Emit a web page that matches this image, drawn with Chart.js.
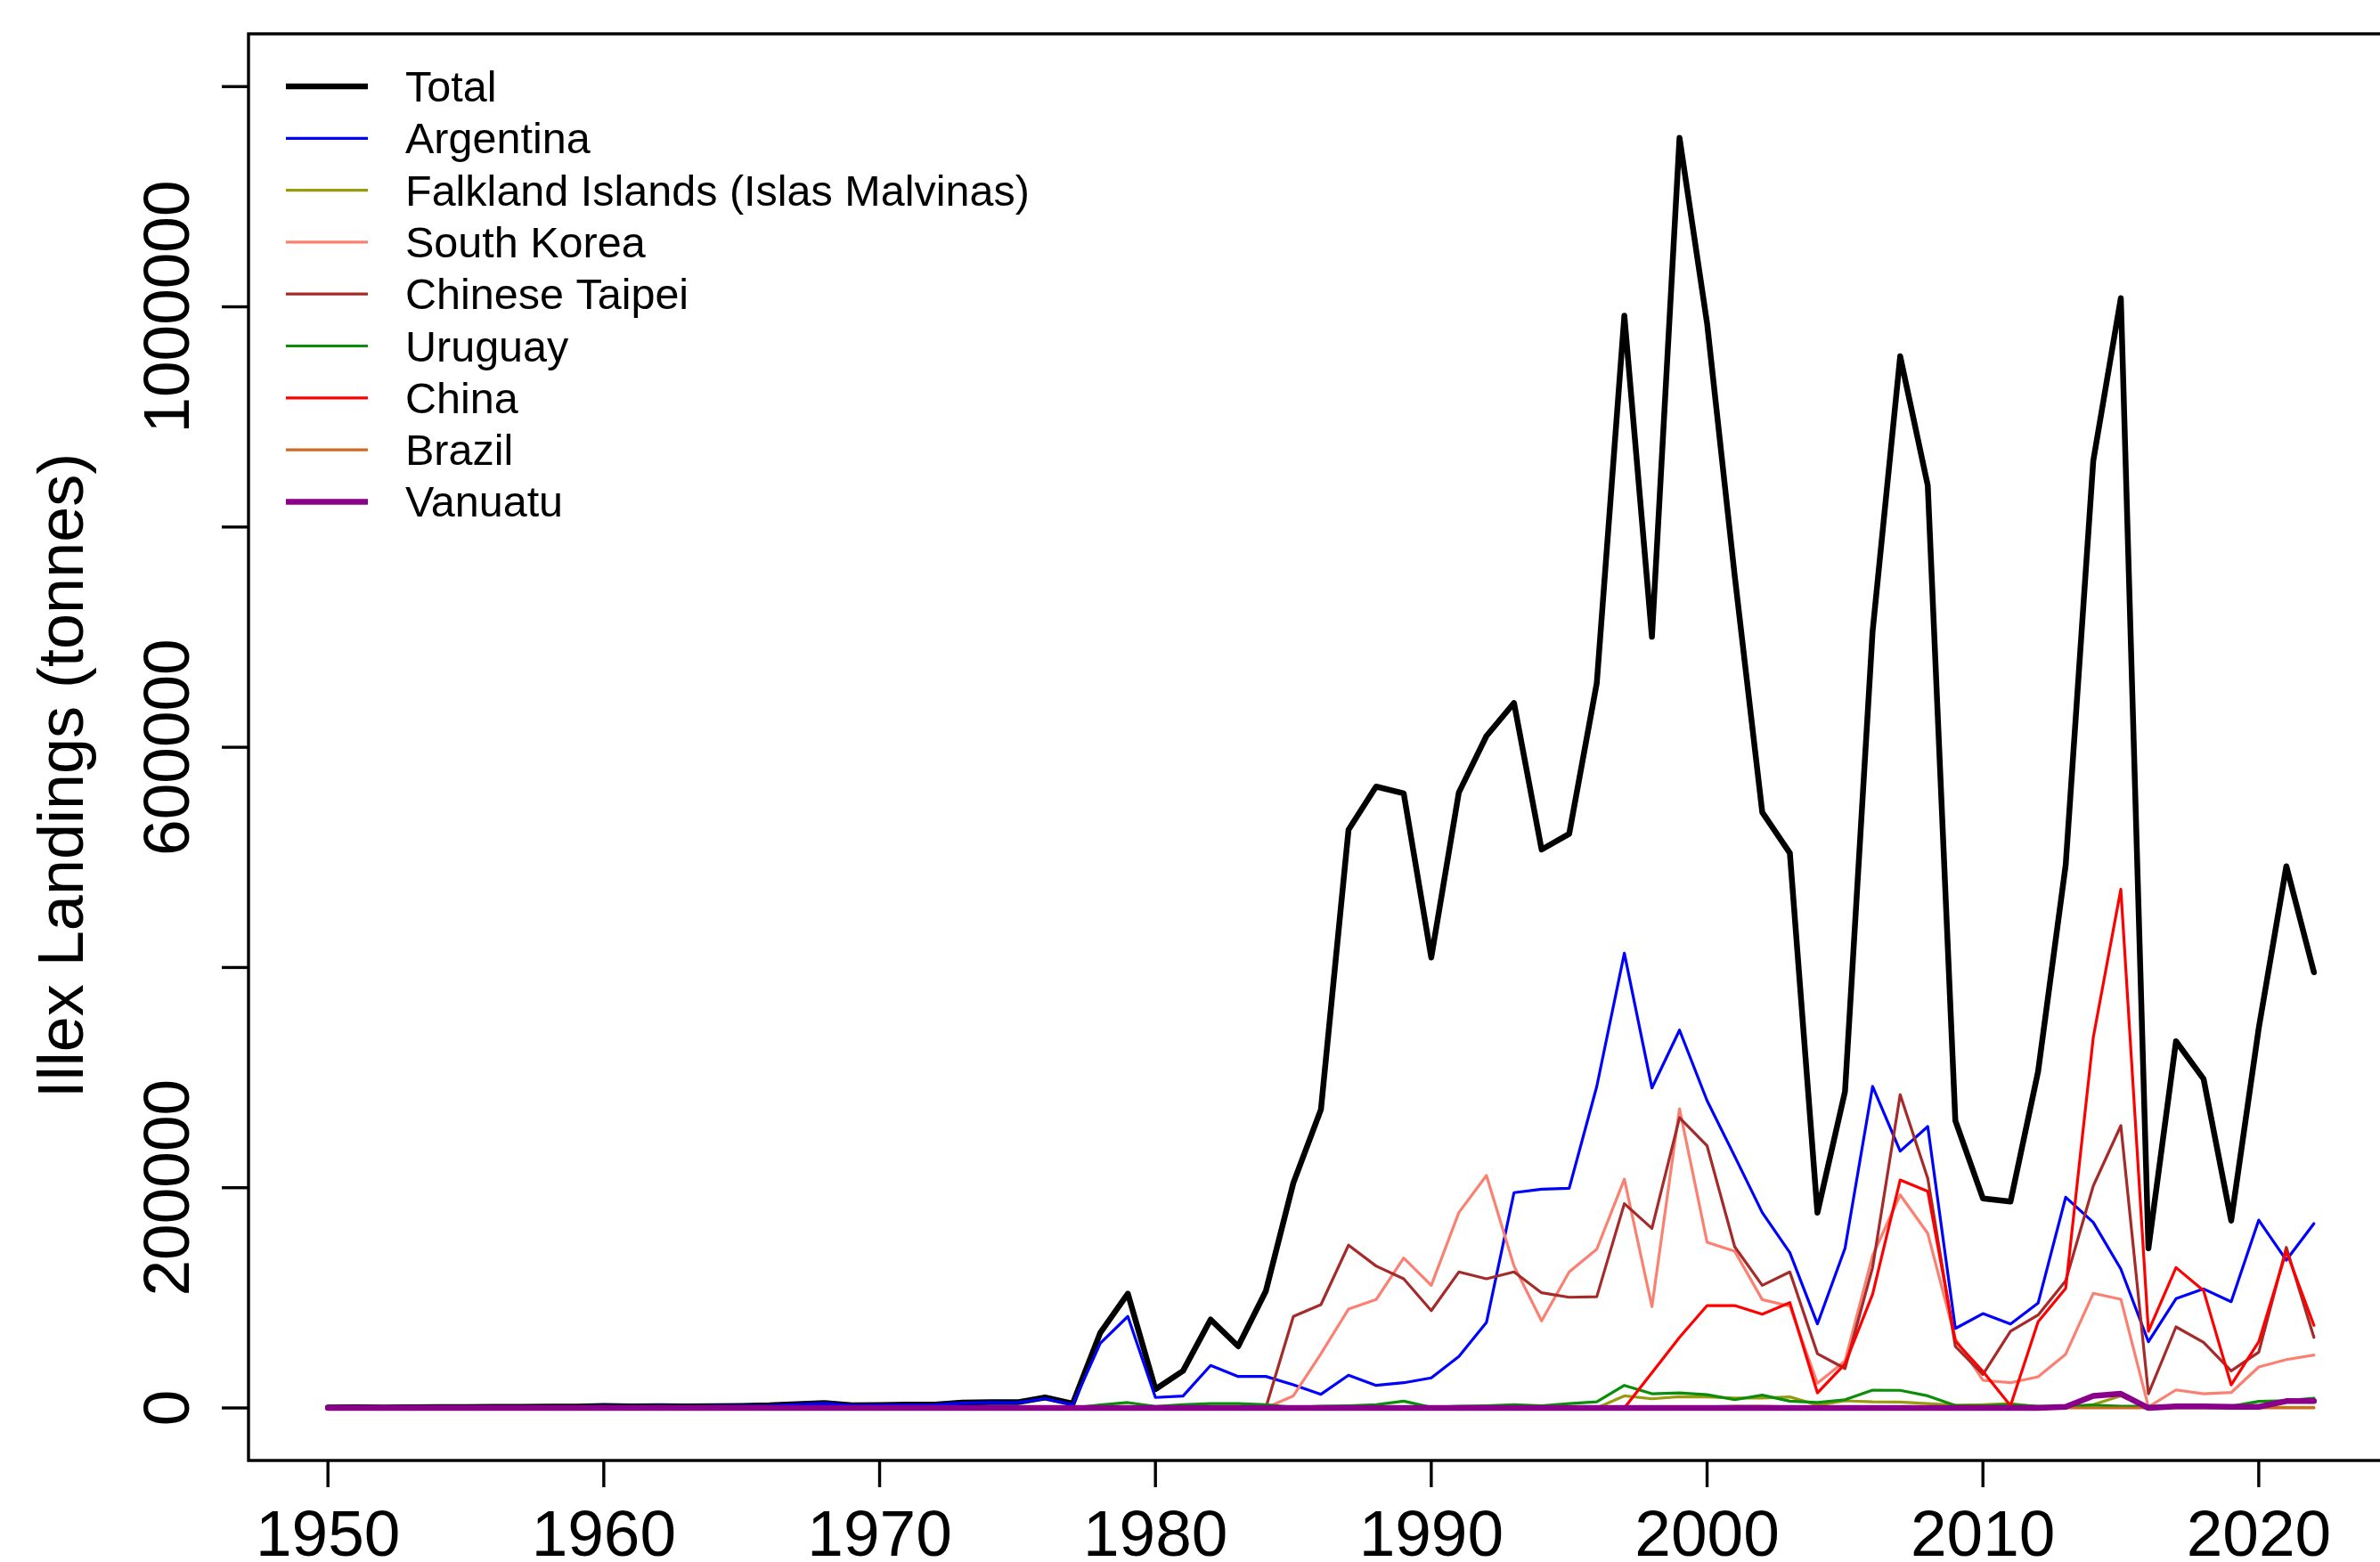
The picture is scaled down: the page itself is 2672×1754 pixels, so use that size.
<!DOCTYPE html>
<html>
<head>
<meta charset="utf-8">
<script src="https://cdn.jsdelivr.net/npm/chart.js@4.4.1/dist/chart.umd.min.js"></script>
<style>
html,body{margin:0;padding:0;background:#fff;overflow:hidden;}
#wrap{width:2672px;height:1754px;overflow:hidden;position:relative;}
canvas{position:absolute;left:0;top:0;}
</style>
</head>
<body>
<div id="wrap"><canvas id="myChart" width="2700" height="1754"></canvas></div>
<script>
var years=[1950,1951,1952,1953,1954,1955,1956,1957,1958,1959,
  1960,1961,1962,1963,1964,1965,1966,1967,1968,1969,
  1970,1971,1972,1973,1974,1975,1976,1977,1978,1979,
  1980,1981,1982,1983,1984,1985,1986,1987,1988,1989,
  1990,1991,1992,1993,1994,1995,1996,1997,1998,1999,
  2000,2001,2002,2003,2004,2005,2006,2007,2008,2009,
  2010,2011,2012,2013,2014,2015,2016,2017,2018,2019,
  2020,2021,2022];

var total=[500,600,500,700,800,900,1000,1100,1200,1300,
  1800,1400,1600,1500,1700,1900,2400,3500,4500,2500,
  2700,3000,3100,4800,5300,5200,9500,4000,68200,103800,
  17000,33700,80300,56000,105900,204300,271000,525000,564300,558200,
  409000,559000,610200,640200,507100,521300,658200,991900,700300,1153400,
  984900,756000,541000,504000,177400,287400,705200,955100,837800,261000,
  190300,187400,305500,493000,860100,1007900,145000,333000,298700,170100,
  345000,492000,395700];
var argentina=[400,500,400,600,700,800,900,1000,1100,1200,
  1600,1300,1500,1400,1600,1800,2200,3200,4200,2300,
  2500,2800,2900,4400,4900,4800,8500,3000,58800,83100,
  9500,10800,38600,28600,28600,21000,12400,29700,20500,22900,
  27300,46700,77600,195500,198700,199500,292000,413000,290600,343100,
  279000,228600,177400,141000,76300,145000,292000,233200,255600,72200,
  85700,76300,95200,191400,168500,126200,60100,99200,108100,96500,
  170600,134200,167400];
var falkland=[0,0,0,0,0,0,0,0,0,0,
  0,0,0,0,0,0,0,0,0,0,
  0,0,0,0,0,0,0,0,0,0,
  0,0,0,0,0,0,0,0,0,0,
  0,0,0,0,0,0,0,11000,8300,10200,
  10000,9000,9000,10000,2600,6500,5500,5300,4000,2500,
  3000,4000,1000,1000,3000,11000,0,500,500,500,
  500,500,500];
var southKorea=[0,0,0,0,0,0,0,0,0,0,
  0,0,0,0,0,0,0,0,0,0,
  0,0,0,0,0,0,0,0,0,0,
  0,0,0,0,0,11000,49300,89800,98400,136100,
  111300,177400,211100,128900,79000,123500,144200,207800,92000,271700,
  150400,142300,98400,92400,22400,42600,138300,193500,158500,62800,
  25100,22900,28300,48800,104100,98700,1000,16400,12900,14000,
  37200,43900,48000];
var taipei=[0,0,0,0,0,0,0,0,0,0,
  0,0,0,0,0,0,0,0,0,0,
  0,0,0,0,0,0,0,0,0,0,
  0,0,0,0,0,83100,93800,147800,128900,117300,
  88400,123500,117300,123500,104600,100500,101000,185500,163100,263600,
  238000,146400,111300,123500,49300,35800,127500,284400,208400,56000,
  30500,69600,84400,115400,201600,256400,12900,73600,59600,33700,
  50700,145800,64100];
var uruguay=[0,0,0,0,0,0,0,0,0,0,
  0,0,0,0,0,0,0,0,0,0,
  0,0,0,0,0,0,0,0,2700,4900,
  1400,3000,4000,4000,3000,500,1500,2000,3000,6200,
  500,1500,2000,3000,2000,4000,5500,20500,12900,13700,
  12100,7500,11600,6200,4900,7500,16200,16000,11000,2200,
  2000,3000,1500,1500,2500,1500,1500,1500,1500,1500,
  6000,6700,8900];
var china=[0,0,0,0,0,0,0,0,0,0,
  0,0,0,0,0,0,0,0,0,0,
  0,0,0,0,0,0,0,0,0,0,
  0,0,0,0,0,0,0,0,0,0,
  0,0,0,0,0,0,0,0,32000,64100,
  93000,93000,85200,95700,13700,39900,103300,207000,196800,60700,
  33200,2000,78200,108600,336400,471000,69600,127500,106500,21000,
  60100,142300,75000];
var brazil=[0,0,0,0,0,0,0,0,0,0,
  0,0,0,0,0,0,0,0,0,0,
  0,0,0,0,0,0,0,0,0,0,
  0,0,0,0,0,0,0,0,0,0,
  0,0,0,0,0,0,0,0,0,500,
  1000,1500,1500,1000,500,500,500,500,500,0,
  0,0,0,0,0,0,0,0,0,0,
  0,0,0];
var vanuatu=[0,0,0,0,0,0,0,0,0,0,
  0,0,0,0,0,0,0,0,0,0,
  0,0,0,0,0,0,0,0,0,0,
  0,0,0,0,0,0,0,0,0,0,
  0,0,0,0,0,0,0,0,0,0,
  0,0,0,0,0,0,0,0,0,0,
  0,0,0,1000,11000,12900,0,1500,1500,1000,
  1000,6200,6200];

var seriesNames=['Total','Argentina','Falkland Islands (Islas Malvinas)','South Korea','Chinese Taipei','Uruguay','China','Brazil','Vanuatu'];
var seriesData=[total,argentina,falkland,southKorea,taipei,uruguay,china,brazil,vanuatu];
var seriesCols=['#000000','#0000ff','#9a9a10','#fa8072','#a52a2a','#0a8e0a','#ff0000','#d2691e','#8b008b'];
var seriesLwd=[6.5,3.2,3.2,3.2,3.2,3.2,3.2,3.2,6.5];

var xTicks=[1950,1960,1970,1980,1990,2000,2010,2020];
var yTicks=[0,200000,400000,600000,800000,1000000,1200000];
var yLabels=[0,200000,600000,1000000];
var yTitle='Illex Landings (tonnes)';

var FONT='"Liberation Sans", Arial, Helvetica, sans-serif';

var rAxes={
  id:'rAxes',
  afterDraw:function(chart){
    var c=chart.ctx,a=chart.chartArea,xs=chart.scales.x,ys=chart.scales.y;
    c.save();
    c.strokeStyle='#000';c.fillStyle='#000';c.lineWidth=3.4;
    c.strokeRect(a.left,a.top,a.right-a.left,a.bottom-a.top);
    // x axis
    c.font='73px '+FONT;c.textAlign='center';c.textBaseline='alphabetic';
    xTicks.forEach(function(t){
      var px=xs.getPixelForValue(t);
      c.beginPath();c.moveTo(px,a.bottom);c.lineTo(px,a.bottom+30);c.stroke();
      c.fillText(String(t),px,a.bottom+107);
    });
    // y axis
    yTicks.forEach(function(t){
      var py=ys.getPixelForValue(t);
      c.beginPath();c.moveTo(a.left,py);c.lineTo(a.left-30,py);c.stroke();
    });
    yLabels.forEach(function(t){
      var py=ys.getPixelForValue(t);
      c.save();c.translate(a.left-67,py);c.rotate(-Math.PI/2);
      c.fillText(String(t),0,0);c.restore();
    });
    c.save();c.translate(93,871);c.rotate(-Math.PI/2);
    c.font='72px '+FONT;c.fillText(yTitle,0,0);c.restore();
    // legend
    c.font='48.5px '+FONT;c.textAlign='left';
    for(var i=0;i<seriesNames.length;i++){
      var ly=97+i*58.3;
      c.strokeStyle=seriesCols[i];c.lineWidth=seriesLwd[i];c.lineCap='butt';
      c.beginPath();c.moveTo(321,ly);c.lineTo(413,ly);c.stroke();
      c.fillStyle='#000';
      c.fillText(seriesNames[i],455,ly+17);
    }
    c.restore();
  }
};

var datasets=[];
for(var i=0;i<seriesNames.length;i++){
  var pts=[];
  for(var j=0;j<years.length;j++){
    if(seriesData[i][j]!==null)pts.push({x:years[j],y:seriesData[i][j]});
  }
  datasets.push({
    label:seriesNames[i],
    data:pts,
    borderColor:seriesCols[i],
    borderWidth:seriesLwd[i],
    borderJoinStyle:'round',
    borderCapStyle:'round',
    pointRadius:0,
    tension:0,
    fill:false,
    order:-i
  });
}

var ctx=document.getElementById('myChart').getContext('2d');
var chart=new Chart(ctx,{
  type:'line',
  data:{datasets:datasets},
  options:{
    responsive:false,
    animation:false,
    devicePixelRatio:1,
    layout:{padding:{left:279,top:38,right:13,bottom:114}},
    plugins:{legend:{display:false},tooltip:{enabled:false}},
    scales:{
      x:{type:'linear',min:1947.12,max:2024.88,display:false},
      y:{type:'linear',min:-47700,max:1247900,display:false}
    }
  },
  plugins:[rAxes]
});
</script>
</body>
</html>
